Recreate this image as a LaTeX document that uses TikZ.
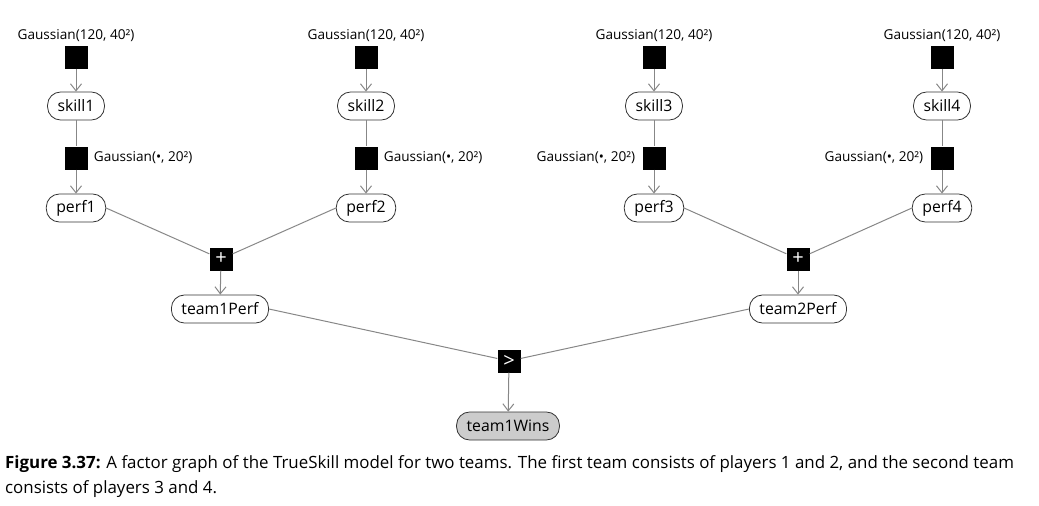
\documentclass[tikz,border=0pt]{standalone}
\usepackage{fontspec}
\setmainfont{Open Sans}
\usetikzlibrary{arrows.meta,positioning}

\begin{document}
\begin{tikzpicture}[x=1pt,y=-1pt,
    var/.style={draw=black!80,line width=0.8pt,rounded corners=13pt,minimum height=28pt,inner xsep=10pt,inner ysep=0pt,font=\fontsize{15.8}{18}\selectfont},
    obs/.style={var,fill=black!20},
    factor/.style={fill=black,minimum size=23pt,inner sep=0pt,text=white,font=\fontsize{20}{20}\selectfont},
    lbl/.style={inner sep=1pt,font=\fontsize{13.6}{15}\selectfont},
    edge/.style={draw=black!47,line width=1pt},
    arr/.style={edge,-{Straight Barb[length=7pt,width=11pt]}}]
    \useasboundingbox (0,0) rectangle (1039,506);

    % Priors
    \node[factor] (prior1) at (76,57) {};
    \node[factor] (prior2) at (366,57) {};
    \node[factor] (prior3) at (654,57) {};
    \node[factor] (prior4) at (942,57) {};
    \node[lbl,above=2pt of prior1] (plab1) {Gaussian(120, 40²)};
    \node[lbl,above=2pt of prior2] (plab2) {Gaussian(120, 40²)};
    \node[lbl,above=2pt of prior3] (plab3) {Gaussian(120, 40²)};
    \node[lbl,above=2pt of prior4] (plab4) {Gaussian(120, 40²)};

    % Skills
    \node[var] (skill1) at (76,106) {skill1};
    \node[var] (skill2) at (366,106) {skill2};
    \node[var] (skill3) at (654,106) {skill3};
    \node[var] (skill4) at (942,106) {skill4};

    % Performance noise
    \node[factor] (noise1) at (76,158) {};
    \node[factor] (noise2) at (366,158) {};
    \node[factor] (noise3) at (654,158) {};
    \node[factor] (noise4) at (942,158) {};
    \node[lbl,right=5pt of noise1] (nlab1) {Gaussian(•, 20²)};
    \node[lbl,right=5pt of noise2] (nlab2) {Gaussian(•, 20²)};
    \node[lbl,left=6pt of noise3] (nlab3) {Gaussian(•, 20²)};
    \node[lbl,left=6pt of noise4] (nlab4) {Gaussian(•, 20²)};

    % Performances
    \node[var] (perf1) at (76,208) {perf1};
    \node[var] (perf2) at (366,208) {perf2};
    \node[var] (perf3) at (654,208) {perf3};
    \node[var] (perf4) at (942,208) {perf4};

    % Team sums
    \node[factor] (sum1) at (221,259) {+};
    \node[factor] (sum2) at (798,259) {+};
    \node[var] (team1Perf) at (220,309) {team1Perf};
    \node[var] (team2Perf) at (798,309) {team2Perf};

    % Comparison
    \node[factor] (cmp) at (509,361) {>};
    \node[obs] (team1Wins) at (508,426) {team1Wins};

    % Edges
    \draw[arr] (prior1) -- (skill1);
    \draw[arr] (prior2) -- (skill2);
    \draw[arr] (prior3) -- (skill3);
    \draw[arr] (prior4) -- (skill4);
    \draw[edge] (skill1) -- (noise1);
    \draw[edge] (skill2) -- (noise2);
    \draw[edge] (skill3) -- (noise3);
    \draw[edge] (skill4) -- (noise4);
    \draw[arr] (noise1) -- (perf1);
    \draw[arr] (noise2) -- (perf2);
    \draw[arr] (noise3) -- (perf3);
    \draw[arr] (noise4) -- (perf4);
    \draw[edge] (perf1.east) -- (sum1);
    \draw[edge] (perf2.west) -- (sum1);
    \draw[edge] (perf3.east) -- (sum2);
    \draw[edge] (perf4.west) -- (sum2);
    \draw[arr] (sum1) -- (team1Perf);
    \draw[arr] (sum2) -- (team2Perf);
    \draw[edge] (team1Perf.east) -- (cmp);
    \draw[edge] (team2Perf.west) -- (cmp);
    \draw[arr] (cmp) -- (team1Wins);

    % Caption
    \node[anchor=north west,align=left,inner sep=0pt,font=\fontsize{16.9}{25}\selectfont] (caption) at (5,455)
        {\textbf{Figure 3.37:} A factor graph of the TrueSkill model for two teams. The first team consists of players 1 and 2, and the second team\\
         consists of players 3 and 4.};
\end{tikzpicture}
\end{document}
